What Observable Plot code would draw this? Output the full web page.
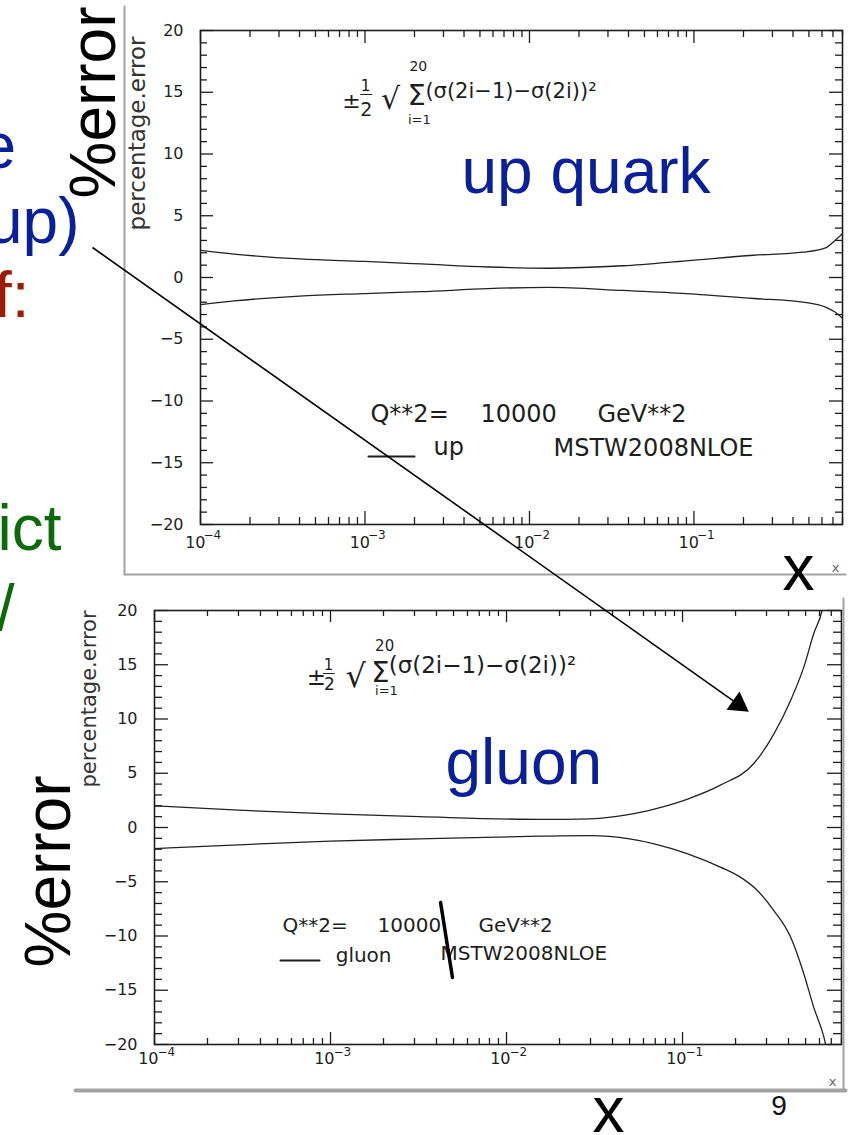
<!DOCTYPE html>
<html><head><meta charset="utf-8">
<script src="https://cdn.jsdelivr.net/npm/d3@7"></script>
<script src="https://cdn.jsdelivr.net/npm/@observablehq/plot@0.6"></script>
<style>
html,body{margin:0;padding:0;background:#fff;}
#page{position:relative;width:852px;height:1135px;overflow:hidden;background:#fff;}
#page svg{position:absolute;left:0;max-width:none;}
</style></head><body><div id="page"></div>
<script>
// ---------- data: up quark percentage error (Q^2 = 10000 GeV^2) ----------
const upX  = [1e-4, 1.6e-4, 4e-4, 1e-3, 2.2e-3, 5.6e-3, 0.013, 0.037, 0.09, 0.23, 0.46, 0.63, 0.72, 0.8];
const upHi = [2.2, 1.9, 1.5, 1.3, 1.1, 0.85, 0.75, 0.95, 1.35, 1.8, 2.05, 2.4, 3.0, 3.55];
const upLo = [-2.2, -1.9, -1.5, -1.3, -1.15, -0.9, -0.8, -1.05, -1.3, -1.7, -2.0, -2.4, -2.8, -3.3];

// ---------- data: gluon percentage error ----------
const gluonHiX = [1e-4, 3e-4, 1e-3, 3.2e-3, 0.0154, 0.03, 0.05, 0.069, 0.106, 0.164, 0.254, 0.33, 0.411, 0.489, 0.557, 0.62, 0.66];
const gluonHi  = [2.0, 1.6, 1.25, 1.0, 0.75, 0.8, 1.2, 1.7, 2.6, 3.9, 5.9, 8.6, 11.7, 14.8, 17.9, 20.0, 22.5];
const gluonLoX = [1e-4, 3e-4, 1e-3, 3.2e-3, 0.0154, 0.03, 0.05, 0.069, 0.106, 0.164, 0.214, 0.266, 0.33, 0.411, 0.489, 0.557, 0.635, 0.68];
const gluonLo  = [-1.95, -1.6, -1.25, -1.05, -0.8, -0.75, -1.05, -1.5, -2.4, -3.65, -4.6, -5.8, -7.65, -10.1, -13.5, -16.6, -19.3, -21.5];

// ---------- axes ----------
const xDomain = [1e-4, 0.8];
const xDecades = [1e-4, 1e-3, 1e-2, 1e-1];
const xExponents = ["−4", "−3", "−2", "−1"];
const yMajorTicks = [-20, -15, -10, -5, 0, 5, 10, 15, 20];
const yLabelText = "percentage.error";

// ---------- annotations ----------
const topAnnotations = [
  {t: "±", x: 8.28e-4, y: 14.33, s: 22, a: "middle"},
  {t: "1", x: 1.007e-3, y: 15.55, s: 16, a: "middle"},
  {t: "2", x: 1.02e-3, y: 13.55, s: 19, a: "middle"},
  {t: "√", x: 1.43e-3, y: 14.4, s: 30, a: "middle"},
  {t: "Σ", x: 2.06e-3, y: 14.75, s: 29, a: "middle"},
  {t: "20", x: 2.11e-3, y: 17.05, s: 14, a: "middle"},
  {t: "i=1", x: 2.14e-3, y: 12.75, s: 13, a: "middle"},
  {t: "(σ(2i−1)−σ(2i))²", x: 2.33e-3, y: 15.06, s: 21, a: "start"},
  {t: "Q**2=", x: 1.08e-3, y: -11.09, s: 24, a: "start"},
  {t: "10000", x: 5.03e-3, y: -11.09, s: 24, a: "start"},
  {t: "GeV**2", x: 2.59e-2, y: -11.09, s: 24, a: "start"},
  {t: "up", x: 2.61e-3, y: -13.77, s: 24, a: "start"},
  {t: "MSTW2008NLOE", x: 1.40e-2, y: -13.85, s: 24, a: "start"}
];
const topFracBar = [[9.4e-4, 14.82], [1.1e-3, 14.82]];
const topLegendLine = [[1.05e-3, -14.49], [2.0e-3, -14.49]];
const topTitle = {t: "up quark", x: 3.86e-3, y: 8.54};

const bottomAnnotations = [
  {t: "±", x: 8.3e-4, y: 13.82, s: 23, a: "middle"},
  {t: "1", x: 9.75e-4, y: 14.93, s: 15, a: "middle"},
  {t: "2", x: 9.87e-4, y: 13.15, s: 17, a: "middle"},
  {t: "√", x: 1.39e-3, y: 13.85, s: 32, a: "middle"},
  {t: "Σ", x: 1.92e-3, y: 14.3, s: 29, a: "middle"},
  {t: "20", x: 2.03e-3, y: 16.7, s: 15, a: "middle"},
  {t: "i=1", x: 2.08e-3, y: 12.6, s: 13, a: "middle"},
  {t: "(σ(2i−1)−σ(2i))²", x: 2.14e-3, y: 14.93, s: 23, a: "start"},
  {t: "Q**2=", x: 5.34e-4, y: -9.03, s: 20, a: "start"},
  {t: "10000", x: 1.85e-3, y: -9.03, s: 20, a: "start"},
  {t: "GeV**2", x: 6.93e-3, y: -9.03, s: 20, a: "start"},
  {t: "gluon", x: 1.07e-3, y: -11.80, s: 20, a: "start"},
  {t: "MSTW2008NLOE", x: 4.22e-3, y: -11.61, s: 20, a: "start"}
];
const bottomFracBar = [[9.1e-4, 14.19], [1.05e-3, 14.19]];
const bottomLegendLine = [[5.2e-4, -12.26], [8.66e-4, -12.26]];
const bottomScratch = [[4.22e-3, -6.91], [4.93e-3, -13.82]];
const bottomTitle = {t: "gluon", x: 4.5e-3, y: 5.92};

// slide-level annotations (page pixel space)
const BLUE = "#0a209a", RED = "#9c1a06", GREEN = "#0b6b0b";
const slideTexts = [
  {t: "e", x: 15.5, y: 147.5, c: BLUE, a: "end"},
  {t: "(up)", x: 79, y: 222.5, c: BLUE, a: "end"},
  {t: "f:", x: 29, y: 296.5, c: RED, a: "end"},
  {t: "ict", x: 61, y: 529.5, c: GREEN, a: "end"},
  {t: "/", x: 14, y: 609.5, c: GREEN, a: "end"},
  {t: "x", x: 798, y: 569.5, c: "#000", a: "middle"},
  {t: "x", x: 608, y: 1111.5, c: "#000", a: "middle"}
];
const slideRotated = [
  {t: "%error", x: 94.5, y: 198},
  {t: "%error", x: 49.5, y: 967}
];
const pageNumber = {t: "9", x: 778.5, y: 1106};
const smallX = [{t: "x", x: 835, y: 567}, {t: "x", x: 832, y: 1081}];
const arrowPath = {x1: 92, y1: 247, x2: 748, y2: 711};
const borders = [
  {pts: [[124, 6], [124, 574]], w: 2},
  {pts: [[124, 574], [845, 574]], w: 2},
  {pts: [[843, 598], [843, 1090]], w: 2},
  {pts: [[75, 1090], [845, 1090]], w: 4}
];

// ---------- rendering ----------
const DV = "DejaVu Sans";
const AR = "Liberation Sans, Arial, sans-serif";
const INK = "#1e1e1e";

function fmtY(d) { return d < 0 ? "−" + (-d) : String(d); }

function buildPanel(cfg) {
  const iw = cfg.width - cfg.ml - cfg.mr;
  const ih = cfg.height - cfg.mt - cfg.mb;
  const minorX = d3.scaleLog().domain(xDomain).ticks()
    .filter(v => !xDecades.some(d => Math.abs(v / d - 1) < 1e-6));
  const minorY = d3.range(-20, 21).filter(v => v % 5 !== 0);
  const tk = {stroke: INK, strokeWidth: 1.3};
  const curve = (xs, ys) => Plot.line(xs.map((x, i) => ({x, v: ys[i]})),
    {x: "x", y: "v", curve: "monotone-x", stroke: "#222", strokeWidth: 1.3, clip: true});
  const marks = [
    Plot.tickX(xDecades, {x: d => d, insetTop: ih - cfg.xMaj, ...tk}),
    Plot.tickX(minorX, {x: d => d, insetTop: ih - cfg.xMin, ...tk}),
    Plot.tickX(xDecades, {x: d => d, insetBottom: ih - cfg.xMaj, ...tk}),
    Plot.tickX(minorX, {x: d => d, insetBottom: ih - cfg.xMin, ...tk}),
    Plot.tickY(yMajorTicks, {y: d => d, insetRight: iw - cfg.yMaj, ...tk}),
    Plot.tickY(minorY, {y: d => d, insetRight: iw - cfg.yMin, ...tk}),
    Plot.tickY(yMajorTicks, {y: d => d, insetLeft: iw - cfg.yMaj, ...tk}),
    Plot.tickY(minorY, {y: d => d, insetLeft: iw - cfg.yMin, ...tk}),
    Plot.text(yMajorTicks, {y: d => d, text: fmtY, frameAnchor: "left", textAnchor: "end",
      dx: cfg.yLabDx, fontSize: 16, fontFamily: DV, fill: INK}),
    Plot.text(xDecades, {x: d => d, text: () => "10", frameAnchor: "bottom", textAnchor: "end",
      dx: cfg.tenDx, dy: cfg.tenDy, fontSize: 16, fontFamily: DV, fill: INK}),
    Plot.text(xDecades, {x: d => d, text: (d, i) => xExponents[i], frameAnchor: "bottom", textAnchor: "start",
      dx: cfg.expDx, dy: cfg.expDy, fontSize: 12, fontFamily: DV, fill: INK}),
    Plot.text([cfg.yLabelAt], {y: d => d, text: () => yLabelText, frameAnchor: "left", textAnchor: "start",
      rotate: -90, dx: cfg.yTitleDx, fontSize: cfg.yTitleSize, fontFamily: DV, fill: "#333"}),
    curve(cfg.hiX, cfg.hi),
    curve(cfg.loX, cfg.lo),
    Plot.line(cfg.fracBar, {stroke: INK, strokeWidth: 1}),
    Plot.line(cfg.legendLine, {stroke: INK, strokeWidth: 2}),
    ...cfg.annotations.map(a => Plot.text([a], {x: "x", y: "y", text: "t", fontSize: a.s,
      textAnchor: a.a, fontFamily: DV, fill: INK})),
    Plot.text([cfg.title], {x: "x", y: "y", text: "t", fontSize: 64, textAnchor: "start",
      fontFamily: AR, fill: BLUE}),
    ...(cfg.extra || []),
    Plot.frame({stroke: INK, strokeWidth: 1.6})
  ];
  const svg = Plot.plot({
    width: cfg.width, height: cfg.height,
    marginLeft: cfg.ml, marginRight: cfg.mr, marginTop: cfg.mt, marginBottom: cfg.mb,
    x: {type: "log", domain: xDomain, axis: null},
    y: {domain: [-20, 20], axis: null},
    style: {background: "transparent", overflow: "visible"},
    marks
  });
  svg.style.top = cfg.top + "px";
  return svg;
}

const page = document.getElementById("page");

page.appendChild(buildPanel({
  top: 0, width: 852, height: 590, ml: 200, mr: 10, mt: 30, mb: 66,
  xMaj: 13, xMin: 7, yMaj: 13, yMin: 7,
  yLabDx: -17, tenDx: 5, tenDy: 23, expDx: 3, expDy: 14,
  yLabelAt: 3.81, yTitleDx: -62.4, yTitleSize: 23,
  hiX: upX, hi: upHi, loX: upX, lo: upLo,
  fracBar: topFracBar, legendLine: topLegendLine,
  annotations: topAnnotations, title: topTitle
}));

page.appendChild(buildPanel({
  top: 580, width: 852, height: 520, ml: 154, mr: 11, mt: 30, mb: 56,
  xMaj: 12, xMin: 6, yMaj: 14, yMin: 8,
  yLabDx: -17, tenDx: 4, tenDy: 19, expDx: 3, expDy: 11,
  yLabelAt: 3.69, yTitleDx: -65.7, yTitleSize: 21,
  hiX: gluonHiX, hi: gluonHi, loX: gluonLoX, lo: gluonLo,
  fracBar: bottomFracBar, legendLine: bottomLegendLine,
  annotations: bottomAnnotations, title: bottomTitle,
  extra: [Plot.line(bottomScratch, {stroke: "#000", strokeWidth: 3.5})]
}));

// slide overlay
const ux = (arrowPath.x2 - arrowPath.x1), uy = (arrowPath.y2 - arrowPath.y1);
const ulen = Math.hypot(ux, uy);
const headCenter = {x: arrowPath.x2 - 12.5 * ux / ulen, y: arrowPath.y2 - 12.5 * uy / ulen};
const headRotate = Math.atan2(uy, ux) * 180 / Math.PI + 90;

const overlay = Plot.plot({
  width: 852, height: 1135, margin: 0,
  x: {domain: [0, 852], range: [0, 852], axis: null},
  y: {domain: [0, 1135], range: [0, 1135], axis: null},
  style: {background: "transparent", overflow: "visible", pointerEvents: "none"},
  marks: [
    ...borders.map(b => Plot.line(b.pts, {stroke: "#a3a3a3", strokeWidth: b.w})),
    ...["end", "middle"].map(anchor => Plot.text(slideTexts.filter(d => d.a === anchor),
      {x: "x", y: "y", text: "t", fill: "c", fontSize: 64, textAnchor: anchor, fontFamily: AR})),
    Plot.text(slideRotated, {x: "x", y: "y", text: "t", rotate: -90, textAnchor: "start",
      fontSize: 64, fontFamily: AR, fill: "#000"}),
    Plot.text([pageNumber], {x: "x", y: "y", text: "t", fontSize: 28, fontFamily: AR, fill: "#111"}),
    Plot.text(smallX, {x: "x", y: "y", text: "t", fontSize: 13, fontFamily: DV, fill: "#666"}),
    Plot.link([arrowPath], {x1: "x1", y1: "y1", x2: d => headCenter.x, y2: d => headCenter.y,
      stroke: "#000", strokeWidth: 1.6}),
    Plot.dot([headCenter], {x: "x", y: "y", symbol: "triangle", r: 8.3, fill: "#000",
      stroke: "none", rotate: headRotate})
  ]
});
overlay.style.top = "0px";
page.appendChild(overlay);
</script>
</body></html>
